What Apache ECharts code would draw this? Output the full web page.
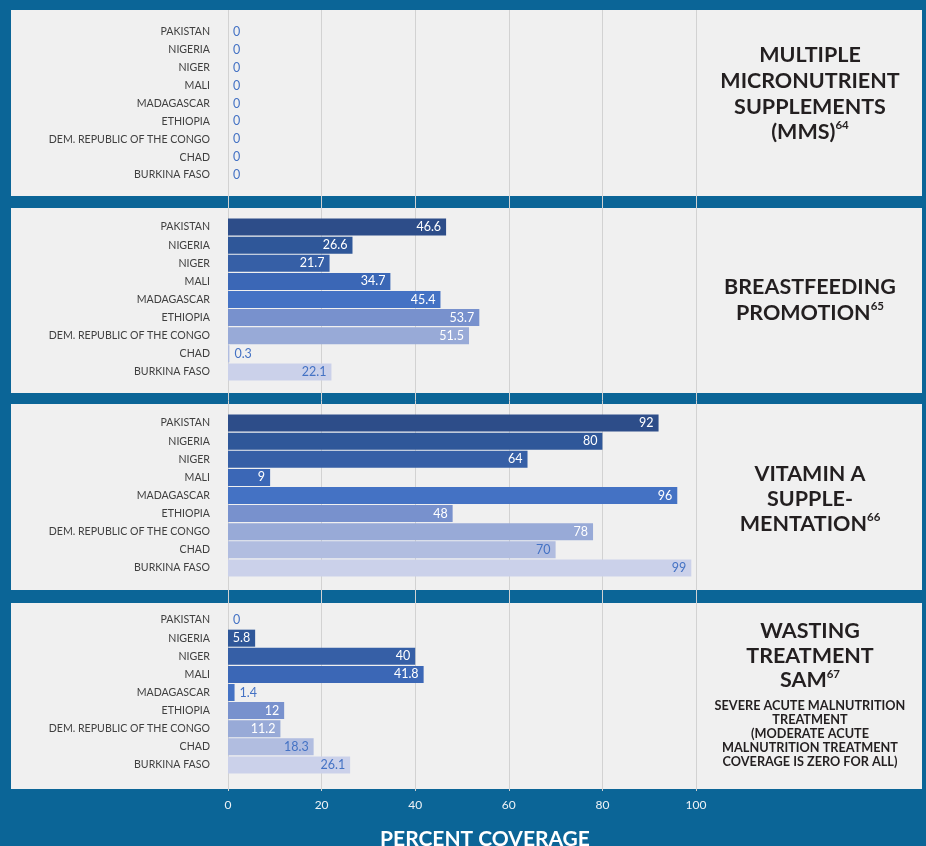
<!DOCTYPE html>
<html>
<head>
<meta charset="utf-8">
<script src="https://cdn.jsdelivr.net/npm/echarts@6/dist/echarts.min.js"></script>
<style>html,body{margin:0;padding:0;background:#0b6597;}#c{width:926px;height:846px;}</style>
</head>
<body>
<div id="c"></div>
<script>
const countries = ['PAKISTAN','NIGERIA','NIGER','MALI','MADAGASCAR','ETHIOPIA','DEM. REPUBLIC OF THE CONGO','CHAD','BURKINA FASO'];
const mms = [0,0,0,0,0,0,0,0,0];
const breastfeeding = [46.6,26.6,21.7,34.7,45.4,53.7,51.5,0.3,22.1];
const vitaminA = [92,80,64,9,96,48,78,70,99];
const wasting = [0,5.8,40,41.8,1.4,12,11.2,18.3,26.1];
const xTicks = [0,20,40,60,80,100];

const barColors = ['#2d4d89','#2f5799','#365fa6','#3b67b6','#4472c4','#7891cd','#98aad7','#b1bde0','#cbd1ea'];
const labelBlue = '#4472c4';

const panels = [
  {top:10, bottom:196, gTop:23, gH:161, data:mms},
  {top:208, bottom:393, gTop:218, gH:163, data:breastfeeding},
  {top:404, bottom:590, gTop:414, gH:163, data:vitaminA},
  {top:603, bottom:789, gTop:611, gH:163, data:wasting}
];

const GL = 228, GW = 468;
const grids = [], xAxes = [], yAxes = [], series = [];
panels.forEach((p, i) => {
  grids.push({left:GL, width:GW, top:p.gTop, height:p.gH});
  xAxes.push({gridIndex:i, type:'value', min:0, max:100, interval:20, show:false});
  yAxes.push({gridIndex:i, type:'category', data:countries, inverse:true,
    axisLine:{show:false}, axisTick:{show:false}, splitLine:{show:false},
    axisLabel:{margin:18, fontFamily:'Lato', fontSize:10.6, color:'#404040'}});
  series.push({
    type:'bar', xAxisIndex:i, yAxisIndex:i, barCategoryGap:'6%', z:3,
    data: p.data.map((v, k) => {
      const inside = v >= 3;
      return {
        value: v,
        itemStyle: {color: barColors[k]},
        label: {show:true, position: inside ? 'insideRight' : 'right', distance:5,
          color: inside ? (k < 7 ? '#ffffff' : labelBlue) : labelBlue,
          fontFamily:'Lato', fontSize:12.5}
      };
    })
  });
});
// full-height grid for gridlines + bottom axis labels
grids.push({left:GL, width:GW, top:10, height:781});
xAxes.push({gridIndex:4, type:'value', min:xTicks[0], max:xTicks[xTicks.length-1], interval:20,
  axisLine:{show:false}, axisTick:{show:false},
  splitLine:{show:true, lineStyle:{color:'#d2d2d2', width:1}},
  axisLabel:{margin:8, color:'#eef2f6', fontFamily:'Lato', fontSize:12,
    formatter: v => xTicks.indexOf(v) >= 0 ? String(v) : ''}});
yAxes.push({gridIndex:4, type:'value', show:false});

const titleColor = '#231f20';
const tStyle = (fs, lh) => ({fontFamily:'Lato', fontWeight:'bold', fontSize:fs, lineHeight:lh, fill:titleColor, color:titleColor});
const supStyle = (lh) => ({fontFamily:'Lato', fontWeight:'bold', fontSize:11.5, lineHeight:lh, verticalAlign:'top', fill:titleColor, color:titleColor});

function titleText(x, y, text, rich) {
  return {type:'text', z:100, x:x, y:y,
    style:{text:text, rich:rich, align:'center', verticalAlign:'middle', textAlign:'center', textVerticalAlign:'middle'}};
}

const TF = 21.5;
const graphic = [];
panels.forEach(p => {
  graphic.push({type:'rect', z:-10, shape:{x:11, y:p.top, width:911, height:p.bottom - p.top}, style:{fill:'#f0f0f0'}});
});
graphic.push(titleText(810, 94, '{t|MULTIPLE}\n{t|MICRONUTRIENT}\n{t|SUPPLEMENTS}\n{t|(MMS)}{s|64}', {t:tStyle(TF, 25.7), s:supStyle(20)}));
graphic.push(titleText(810, 300, '{t|BREASTFEEDING}\n{t|PROMOTION}{s|65}', {t:tStyle(TF, 25.4), s:supStyle(20)}));
graphic.push(titleText(810, 499, '{t|VITAMIN A}\n{t|SUPPLE-}\n{t|MENTATION}{s|66}', {t:tStyle(TF, 25), s:supStyle(20)}));
graphic.push(titleText(810, 656, '{t|WASTING}\n{t|TREATMENT}\n{t|SAM}{s|67}', {t:tStyle(TF, 24.5), s:supStyle(20)}));
graphic.push(titleText(810, 733.5, '{u|SEVERE ACUTE MALNUTRITION}\n{u|TREATMENT}\n{u|(MODERATE ACUTE}\n{u|MALNUTRITION TREATMENT}\n{u|COVERAGE IS ZERO FOR ALL)}', {u:tStyle(12.7, 14)}));
graphic.push({type:'text', z:100, x:485, y:839,
  style:{text:'PERCENT COVERAGE', fontFamily:'Lato', fontWeight:'bold', fontSize:21, fill:'#ffffff',
    align:'center', verticalAlign:'middle', textAlign:'center', textVerticalAlign:'middle'}});

const chart = echarts.init(document.getElementById('c'), null, {renderer:'canvas'});
chart.setOption({
  backgroundColor:'#0b6597',
  animation:false,
  grid:grids, xAxis:xAxes, yAxis:yAxes, series:series,
  graphic:graphic
});
</script>
</body>
</html>
